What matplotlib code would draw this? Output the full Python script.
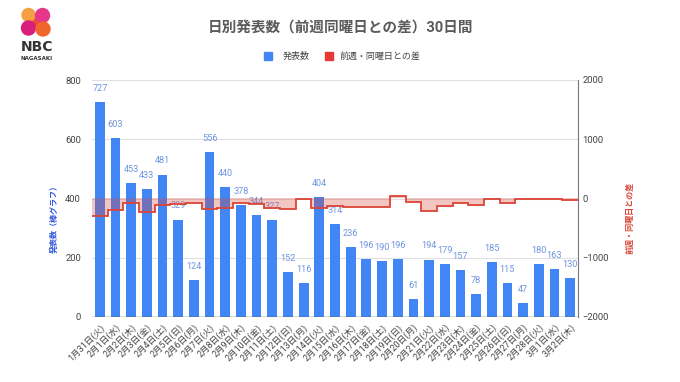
import numpy as np
import matplotlib
matplotlib.use("Agg")
import matplotlib.pyplot as plt
from matplotlib.patches import Circle, Polygon, Rectangle

plt.rcParams['font.family'] = ['Roboto', 'Noto Sans CJK JP', 'DejaVu Sans']

# data
dates = ['1月31日(火)', '2月1日(水)', '2月2日(木)', '2月3日(金)', '2月4日(土)', '2月5日(日)',
         '2月6日(月)', '2月7日(火)', '2月8日(水)', '2月9日(木)', '2月10日(金)', '2月11日(土)',
         '2月12日(日)', '2月13日(月)', '2月14日(火)', '2月15日(水)', '2月16日(木)', '2月17日(金)',
         '2月18日(土)', '2月19日(日)', '2月20日(月)', '2月21日(火)', '2月22日(水)', '2月23日(木)',
         '2月24日(金)', '2月25日(土)', '2月26日(日)', '2月27日(月)', '2月28日(火)', '3月1日(水)',
         '3月2日(木)']
counts = [727, 603, 453, 433, 481, 329, 124, 556, 440, 378, 344, 327, 152, 116, 404, 314,
          236, 196, 190, 196, 61, 194, 179, 157, 78, 185, 115, 47, 180, 163, 130]
diff_prev_week = [-290, -200, -80, -220, -110, -90, -70, -171, -163, -75, -89, -154, -177, -8,
                  -152, -126, -142, -148, -137, 44, -55, -210, -135, -79, -118, -5, -81, -14,
                  -14, -16, -27]

BLUE = '#4285f4'
RED = '#db4437'
LABEL_BLUE = '#6f95e0'

fig = plt.figure(figsize=(6.8, 3.82), dpi=100)
ax = fig.add_axes([92 / 680, 1 - 317 / 382, (578 - 92) / 680, (317 - 80) / 382])
ax2 = ax.twinx()

x = np.arange(len(counts))

# bars on the left axis
ax.bar(x, counts, width=0.62, color=BLUE, zorder=3)
for i, v in enumerate(counts):
    ax.annotate(str(v), (i, v), xytext=(0, 8), textcoords='offset points',
                ha='center', va='baseline', fontsize=6.6, color=LABEL_BLUE, zorder=5)

ax.set_xlim(-0.5, len(counts) - 0.5)
ax.set_ylim(0, 800)
ax.set_yticks([0, 200, 400, 600, 800])
ax.grid(axis='y', color='#e0e0e0', linewidth=0.8, zorder=0)
ax.axhline(0, color='#555555', linewidth=1, zorder=4)
ax.set_xticks(x)
ax.set_xticklabels(dates, rotation=45, ha='right', rotation_mode='anchor', fontsize=6.3,
                   color='#444444')
ax.tick_params(axis='x', length=0, pad=4)
ax.tick_params(axis='y', length=0, labelsize=6.8, labelcolor='#444444', pad=8)
for s in ax.spines.values():
    s.set_visible(False)
ax.set_ylabel('発表数（棒グラフ）', color='#3355dd', fontsize=5.8, fontweight='bold')
ax.yaxis.set_label_coords(-0.07, 0.42)

# stepped area on the right axis, drawn over the bars
edges = np.arange(len(diff_prev_week) + 1) - 0.5
ax2.stairs(diff_prev_week, edges, baseline=0, fill=True, color=RED, alpha=0.3, linewidth=0,
           zorder=2)
ax2.stairs(diff_prev_week, edges, baseline=None, color=RED, linewidth=1.3, zorder=4)
ax2.set_ylim(-2000, 2000)
ax2.set_yticks([-2000, -1000, 0, 1000, 2000])
ax2.tick_params(axis='y', length=0, labelsize=6.8, labelcolor='#444444', pad=3)
for k, s in ax2.spines.items():
    s.set_visible(k == 'right')
ax2.spines['right'].set_color('#777777')
ax2.set_ylabel('前週・同曜日との差', color=RED, fontsize=5.8, fontweight='bold', rotation=90)
ax2.yaxis.set_label_coords(1.098, 0.42)

# title and legend
fig.text(340 / 680, 1 - 28 / 382, '日別発表数（前週同曜日との差）30日間', ha='center', va='center',
         fontsize=10.5, fontweight='bold', color='#5a5a5a')
fig.patches.append(Rectangle((264 / 680, 1 - 60 / 382), 8 / 680, 8 / 382, color=BLUE,
                             transform=fig.transFigure, figure=fig))
fig.text(283 / 680, 1 - 56 / 382, '発表数', ha='left', va='center', fontsize=6.5, color='#444444')
fig.patches.append(Rectangle((325 / 680, 1 - 60 / 382), 8 / 680, 8 / 382, color='#e53935',
                             transform=fig.transFigure, figure=fig))
fig.text(340 / 680, 1 - 56 / 382, '前週・同曜日との差', ha='left', va='center', fontsize=6.5,
         color='#444444')

# logo
lg = fig.add_axes([0, 0, 1, 1], zorder=-5)
lg.set_xlim(0, 680)
lg.set_ylim(382, 0)
lg.axis('off')
lg.add_patch(Polygon([(24, 12), (32, 10), (47, 30), (39, 34)], color='#ee4a3a'))
lg.add_patch(Circle((28.5, 15), 6.5, color='#f5a043'))
lg.add_patch(Circle((42.5, 15.5), 7, color='#e8378a'))
lg.add_patch(Circle((28.5, 28), 7, color='#d91f7c'))
lg.add_patch(Circle((43, 29), 7, color='#f0652c'))
lg.text(37, 47, 'NBC', ha='center', va='center', fontsize=10, fontweight='bold', color='#333333',
        family='DejaVu Sans')
lg.text(37, 58, 'NAGASAKI', ha='center', va='center', fontsize=4, fontweight='bold',
        color='#333333', family='DejaVu Sans')

fig.savefig('out.png', dpi=100)
